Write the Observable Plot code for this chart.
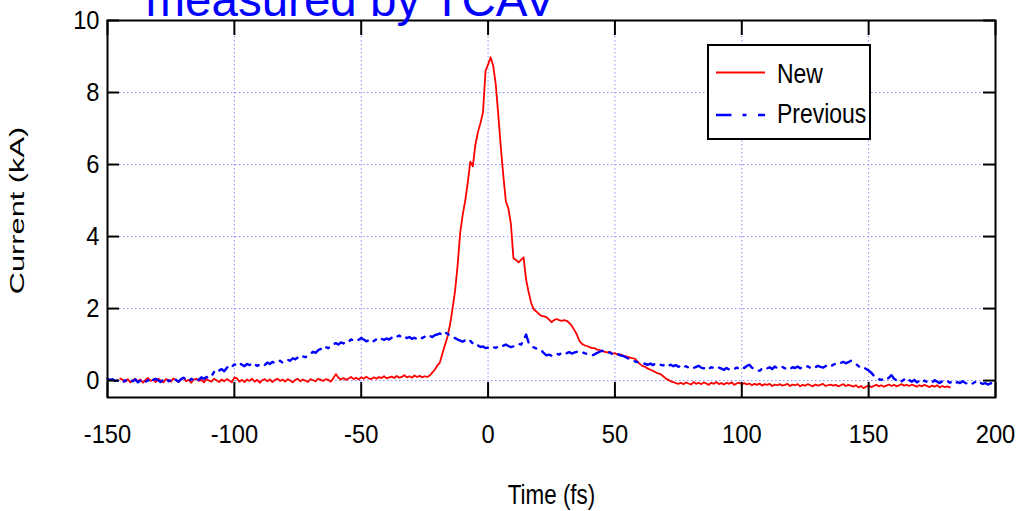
<!DOCTYPE html>
<html>
<head>
<meta charset="utf-8">
<script src="https://cdn.jsdelivr.net/npm/d3@7"></script>
<script src="https://cdn.jsdelivr.net/npm/@observablehq/plot@0.6"></script>
<style>
  html, body { margin: 0; padding: 0; background: #fff; }
  #chart { width: 1017px; height: 511px; overflow: hidden; }
</style>
</head>
<body>
<div id="chart"></div>
<script>
// ---------- data ----------
const titleText = "measured by TCAV";
const xLabel = "Time (fs)";
const yLabel = "Current (kA)";
const seriesNames = ["New", "Previous"];
const xTicks = [-150, -100, -50, 0, 50, 100, 150, 200];
const yTicks = [0, 2, 4, 6, 8, 10];
const xGrid = [-100, -50, 0, 50, 100, 150];
const yGrid = [0, 2, 4, 6, 8];

// "New" current profile, one sample per fs starting at -145 fs
const newStart = -145;
const newCurrent = [
  0.06, 0.02, -0.03, 0.04, -0.05, 0.01, 0.05, -0.02, 0.03, -0.06,
  0.02, 0.07, -0.01, 0.03, -0.04, 0.05, 0.00, -0.05, 0.04, 0.02,
  -0.03, 0.06, 0.01, -0.04, 0.03, 0.08, -0.02, 0.02, -0.06, 0.03,
  0.05, -0.01, 0.02, -0.05, 0.04, 0.00, -0.03, 0.05, 0.01, -0.04,
  0.03, -0.02, 0.04, 0.00, -0.05, 0.09, 0.06, -0.03, 0.02, -0.04,
  0.03, -0.01, 0.05, -0.03, 0.02, -0.06, 0.01, 0.04, -0.02, 0.03,
  -0.04, 0.02, 0.05, -0.01, 0.03, -0.03, 0.04, 0.00, -0.05, 0.02,
  0.05, -0.02, 0.03, 0.00, -0.04, 0.04, 0.01, -0.02, 0.05, 0.02,
  -0.01, 0.04, 0.02, -0.03, 0.06, 0.18, 0.08, 0.03, 0.07, 0.02,
  0.06, 0.10, 0.04, 0.08, 0.03, 0.09, 0.05, 0.11, 0.06, 0.04,
  0.09, 0.05, 0.10, 0.07, 0.12, 0.06, 0.09, 0.11, 0.07, 0.13,
  0.08, 0.10, 0.15, 0.09, 0.12, 0.08, 0.14, 0.10, 0.13, 0.09,
  0.12, 0.10, 0.14, 0.22, 0.30, 0.42, 0.50, 0.75, 0.98, 1.22,
  1.55, 2.00, 2.50, 3.20, 4.10, 4.60, 5.00, 5.50, 6.08, 5.95,
  6.55, 6.90, 7.15, 7.45, 8.60, 8.78, 8.98, 8.75, 8.25, 7.40,
  6.50, 5.70, 4.98, 4.78, 4.35, 3.40, 3.35, 3.28, 3.35, 3.42,
  2.80, 2.45, 2.15, 1.98, 1.92, 1.85, 1.80, 1.78, 1.76, 1.70,
  1.62, 1.68, 1.71, 1.68, 1.66, 1.68, 1.66, 1.60, 1.52, 1.40,
  1.28, 1.10, 1.02, 0.98, 0.96, 0.93, 0.90, 0.90, 0.86, 0.85,
  0.82, 0.80, 0.78, 0.80, 0.74, 0.76, 0.72, 0.73, 0.70, 0.68,
  0.66, 0.64, 0.62, 0.60, 0.52, 0.45, 0.40, 0.38, 0.33, 0.30,
  0.27, 0.23, 0.20, 0.18, 0.12, 0.06, 0.02, -0.02, -0.04, -0.07,
  -0.09, -0.06, -0.10, -0.05, -0.08, -0.11, -0.04, -0.09, -0.06, -0.10,
  -0.05, -0.08, -0.12, -0.06, -0.09, -0.04, -0.10, -0.07, -0.11, -0.06,
  -0.09, -0.05, -0.12, -0.08, -0.06, -0.10, -0.07, -0.11, -0.08, -0.13,
  -0.09, -0.12, -0.08, -0.14, -0.10, -0.12, -0.09, -0.15, -0.11, -0.13,
  -0.10, -0.14, -0.12, -0.09, -0.15, -0.11, -0.13, -0.10, -0.16, -0.12,
  -0.14, -0.10, -0.13, -0.16, -0.11, -0.14, -0.12, -0.09, -0.15, -0.13,
  -0.11, -0.14, -0.12, -0.16, -0.13, -0.10, -0.15, -0.12, -0.14, -0.17,
  -0.13, -0.19, -0.15, -0.21, -0.17, -0.14, -0.18, -0.15, -0.12, -0.16,
  -0.13, -0.17, -0.14, -0.11, -0.15, -0.12, -0.16, -0.13, -0.10, -0.14,
  -0.12, -0.15, -0.11, -0.14, -0.17, -0.13, -0.16, -0.12, -0.15, -0.18,
  -0.14, -0.17, -0.13, -0.19, -0.15, -0.18, -0.16, -0.19
];

// "Previous" current profile, one sample per fs starting at -150 fs
const prevStart = -150;
const prevCurrent = [
  0.05, 0.02, 0.04, -0.01, 0.00, -0.04, -0.06, 0.01, -0.03, 0.02,
  -0.02, 0.03, -0.05, 0.00, 0.04, -0.03, 0.01, -0.06, 0.02, 0.05,
  0.00, -0.04, 0.03, 0.06, -0.02, 0.01, 0.07, 0.02, -0.03, 0.04,
  0.08, 0.03, -0.02, 0.05, 0.01, 0.06, 0.02, 0.09, 0.05, 0.10,
  0.07, 0.12, 0.24, 0.20, 0.28, 0.32, 0.26, 0.35, 0.42, 0.38,
  0.45, 0.42, 0.48, 0.44, 0.40, 0.46, 0.43, 0.49, 0.45, 0.41,
  0.44, 0.47, 0.43, 0.50, 0.46, 0.52, 0.48, 0.51, 0.55, 0.50,
  0.54, 0.58, 0.55, 0.62, 0.59, 0.64, 0.61, 0.67, 0.65, 0.70,
  0.74, 0.80, 0.77, 0.84, 0.88, 0.85, 0.93, 0.90, 0.97, 1.01,
  1.04, 1.00, 1.06, 1.03, 1.10, 1.08, 1.14, 1.12, 1.16, 1.13,
  1.18, 1.14, 1.09, 1.12, 1.06, 1.10, 1.15, 1.11, 1.16, 1.13,
  1.17, 1.14, 1.19, 1.16, 1.22, 1.25, 1.20, 1.23, 1.18, 1.21,
  1.16, 1.19, 1.15, 1.20, 1.18, 1.22, 1.19, 1.24, 1.21, 1.26,
  1.28, 1.31, 1.27, 1.34, 1.30, 1.25, 1.22, 1.18, 1.14, 1.11,
  1.08, 1.12, 1.06, 1.10, 1.03, 0.96, 0.98, 0.93, 0.95, 0.90,
  0.92, 0.89, 0.93, 0.91, 0.94, 0.92, 0.97, 1.00, 0.96, 0.93,
  0.95, 0.98, 1.02, 1.00, 1.12, 1.28, 1.05, 0.97, 0.92, 0.89,
  0.88, 0.84, 0.76, 0.70, 0.72, 0.69, 0.73, 0.75, 0.72, 0.77,
  0.74, 0.76, 0.79, 0.75, 0.78, 0.80, 0.77, 0.79, 0.76, 0.74,
  0.72, 0.70, 0.73, 0.77, 0.80, 0.83, 0.79, 0.76, 0.78, 0.74,
  0.72, 0.75, 0.70, 0.69, 0.66, 0.62, 0.59, 0.56, 0.53, 0.51,
  0.50, 0.48, 0.46, 0.44, 0.47, 0.43, 0.48, 0.45, 0.44, 0.42,
  0.46, 0.41, 0.44, 0.40, 0.43, 0.38, 0.42, 0.37, 0.40, 0.36,
  0.39, 0.35, 0.38, 0.41, 0.36, 0.34, 0.38, 0.33, 0.37, 0.35,
  0.32, 0.36, 0.33, 0.30, 0.35, 0.31, 0.34, 0.32, 0.36, 0.33,
  0.38, 0.35, 0.41, 0.44, 0.36, 0.31, 0.29, 0.27, 0.33, 0.30,
  0.34, 0.37, 0.32, 0.39, 0.35, 0.33, 0.38, 0.34, 0.36, 0.32,
  0.37, 0.35, 0.39, 0.34, 0.38, 0.36, 0.40, 0.35, 0.39, 0.37,
  0.41, 0.38, 0.36, 0.40, 0.43, 0.39, 0.44, 0.47, 0.45, 0.49,
  0.52, 0.48, 0.51, 0.55, 0.50, 0.46, 0.40, 0.36, 0.38, 0.32,
  0.28, 0.22, 0.14, 0.08, 0.04, 0.02, 0.06, 0.03, 0.08, 0.15,
  0.05, 0.01, 0.04, -0.02, 0.03, -0.04, 0.01, -0.03, 0.02, -0.05,
  -0.01, -0.06, 0.00, -0.04, -0.02, -0.05, 0.01, -0.03, -0.07, -0.02,
  -0.05, -0.01, -0.06, -0.03, -0.08, -0.04, -0.07, -0.02, -0.06, -0.09,
  -0.05, -0.08, -0.04, -0.10, -0.06, -0.09, -0.07, -0.11, -0.08, -0.06,
  -0.12
];

// ---------- build ----------
const newData = newCurrent.map((v, i) => ({t: newStart + i, v, s: seriesNames[0]}));
const prevData = prevCurrent.map((v, i) => ({t: prevStart + i, v, s: seriesNames[1]}));

const W = 1017, H = 511;
const mL = 107, mR = 22, mT = 20, mB = 114;
const innerW = W - mL - mR, innerH = H - mT - mB;
const gridStyle = {stroke: "#8c8cff", strokeDasharray: "1.5,2.5", strokeWidth: 1};
const tickStyle = {stroke: "black", strokeWidth: 2};

const svg = Plot.plot({
  width: W, height: H,
  marginLeft: mL, marginRight: mR, marginTop: mT, marginBottom: mB,
  x: {domain: [-150, 200]},
  y: {domain: [-0.47, 10]},
  style: {fontFamily: "'Liberation Sans', Arial, sans-serif", background: "white", color: "black"},
  marks: [
    Plot.ruleX(xGrid, {x: d => d, ...gridStyle}),
    Plot.ruleY(yGrid, {y: d => d, ...gridStyle}),
    Plot.line(newData, {x: "t", y: "v", stroke: "#ff0000", strokeWidth: 1.8}),
    Plot.line(prevData, {x: "t", y: "v", stroke: "#0000ff", strokeWidth: 2.4, strokeDasharray: "11,7,3,7"}),
    Plot.ruleX(xTicks, {x: d => d, insetTop: innerH - 15, ...tickStyle}),
    Plot.ruleX(xTicks, {x: d => d, insetBottom: innerH - 15, ...tickStyle}),
    Plot.ruleY(yTicks, {y: d => d, insetRight: innerW - 12, ...tickStyle}),
    Plot.ruleY(yTicks, {y: d => d, insetLeft: innerW - 12, ...tickStyle}),
    Plot.frame({stroke: "black", strokeWidth: 2}),
    Plot.axisX({ticks: xTicks, tickSize: 0, tickPadding: 27, fontSize: 25.5, tickFormat: d => String(d), label: null}),
    Plot.axisY({ticks: yTicks, tickSize: 0, tickPadding: 8, fontSize: 25.5, tickFormat: d => String(d), label: null}),
    Plot.text([xLabel], {text: d => d, frameAnchor: "bottom", dy: 106, lineAnchor: "bottom", fontSize: 28}),
    Plot.text([yLabel], {text: d => d, frameAnchor: "left", rotate: -90, dx: -83.5, dy: 1.5, textAnchor: "middle", lineAnchor: "bottom", fontSize: 20.5}),
    Plot.text([titleText], {text: d => d, frameAnchor: "top-left", dx: 38, dy: -5, textAnchor: "start", lineAnchor: "bottom", fontSize: 48, fill: "#0000ff"})
  ]
});

// mimic the horizontally compressed lettering of the source picture
svg.querySelectorAll("text").forEach(t => {
  const s = t.textContent;
  let sc = 0.93;
  if (s === yLabel) sc = 1.5;
  else if (s === titleText) sc = 0.99;
  else if (s === xLabel) sc = 0.8;
  t.setAttribute("transform", (t.getAttribute("transform") || "") + ` scale(${sc},1)`);
});

// legend box
const lg = d3.select(svg).append("g")
  .attr("font-family", "'Liberation Sans', Arial, sans-serif")
  .attr("text-anchor", "start");
lg.append("rect").attr("x", 708).attr("y", 45).attr("width", 162).attr("height", 94)
  .attr("fill", "white").attr("stroke", "black").attr("stroke-width", 2);
lg.append("line").attr("x1", 716).attr("x2", 765).attr("y1", 72.5).attr("y2", 72.5)
  .attr("stroke", "#ff0000").attr("stroke-width", 2);
lg.append("line").attr("x1", 716).attr("x2", 765).attr("y1", 115).attr("y2", 115)
  .attr("stroke", "#0000ff").attr("stroke-width", 2.5).attr("stroke-dasharray", "15.5,11,4,11.5");
lg.append("text").attr("text-anchor", "start").attr("transform", "translate(777,83) scale(0.82,1)").attr("font-size", 28).text(seriesNames[0]);
lg.append("text").attr("text-anchor", "start").attr("transform", "translate(777,123) scale(0.82,1)").attr("font-size", 28).text(seriesNames[1]);

document.getElementById("chart").appendChild(svg);
</script>
</body>
</html>
